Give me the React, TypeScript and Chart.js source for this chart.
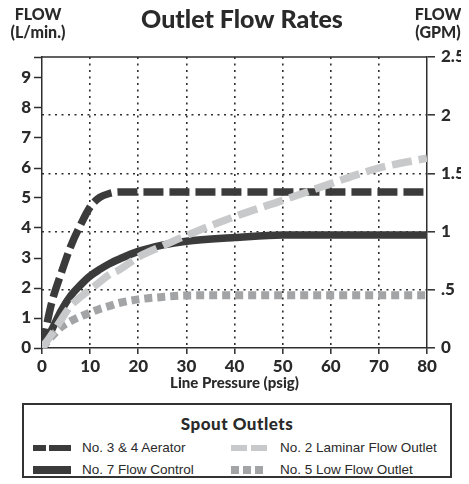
import React, { useEffect, useRef } from "react";
import { Chart, registerables } from "chart.js";

Chart.register(...registerables);

const pressure = [0, 2, 4, 6, 8, 10, 12, 14, 16, 20, 25, 30, 40, 50, 60, 70, 80];
const aerator = [0, 1.5, 2.5, 3.4, 4.1, 4.7, 5.02, 5.15, 5.2, 5.2, 5.2, 5.2, 5.2, 5.2, 5.2, 5.2, 5.2];
const flowControl = [0, 0.6, 1.25, 1.75, 2.1, 2.4, 2.62, 2.81, 2.96, 3.22, 3.43, 3.56, 3.68, 3.77, 3.77, 3.77, 3.77];
const laminar = [0, 0.45, 0.95, 1.41, 1.7, 1.95, 2.2, 2.45, 2.6, 3.03, 3.4, 3.75, 4.38, 4.92, 5.48, 6.0, 6.33];
const lowFlow = [0, 0.38, 0.7, 0.9, 1.05, 1.18, 1.3, 1.4, 1.5, 1.62, 1.7, 1.75, 1.76, 1.76, 1.76, 1.76, 1.76];

const seriesNames = ["No. 3 & 4 Aerator", "No. 7 Flow Control", "No. 2 Laminar Flow Outlet", "No. 5 Low Flow Outlet"];
const leftMax = 9.7;
const rightMax = 2.5;

const DARK = "#3b3b3b";
const LIGHT = "#c8c9ca";
const MID = "#a3a4a6";
const AXIS = "#2e2e2e";
const TICK_FONT = { family: "Lato", size: 17, weight: "900" as any };

const pts = (ys: number[]) => pressure.map((x, i) => ({ x, y: ys[i] }));

const textPlugin = {
  id: "texts",
  afterDraw(chart: any) {
    const { ctx, chartArea } = chart;
    ctx.save();
    ctx.strokeStyle = AXIS;
    ctx.lineWidth = 1.5;
    ctx.beginPath();
    ctx.moveTo(chartArea.left, chartArea.top);
    ctx.lineTo(chartArea.right, chartArea.top);
    ctx.stroke();
    ctx.fillStyle = "#2a2a2a";
    ctx.textAlign = "center";
    ctx.textBaseline = "middle";
    ctx.font = "900 25px Lato";
    ctx.fillText("Outlet Flow Rates", 234, 12);
    ctx.font = "900 16px Lato";
    ctx.fillText("FLOW", 30, 7);
    ctx.fillText("(L/min.)", 30, 25);
    ctx.fillText("FLOW", 430, 7);
    ctx.fillText("(GPM)", 430, 25);
    ctx.restore();
  },
};

function Swatch({ color, dash, width, len }: { color: string; dash?: string; width: number; len: number }) {
  return (
    <svg width={40} height={10} style={{ position: "absolute", left: 0, top: 0 }}>
      <line x1={0} y1={5} x2={len} y2={5} stroke={color} strokeWidth={width} strokeDasharray={dash} />
    </svg>
  );
}

export default function App() {
  const ref = useRef<HTMLCanvasElement | null>(null);
  useEffect(() => {
    if (!ref.current) return;
    const chart = new Chart(ref.current, {
      type: "line",
      data: {
        datasets: [
          { label: seriesNames[0], data: pts(aerator), borderColor: DARK, borderWidth: 7.5, borderDash: [20, 6], order: 3 },
          { label: seriesNames[1], data: pts(flowControl), borderColor: DARK, borderWidth: 7.5, order: 2 },
          { label: seriesNames[2], data: pts(laminar), borderColor: LIGHT, borderWidth: 7.5, borderDash: [20, 7], order: 0 },
          { label: seriesNames[3], data: pts(lowFlow), borderColor: MID, borderWidth: 8, borderDash: [8, 5], order: 1 },
        ],
      },
      options: {
        animation: false,
        responsive: false,
        maintainAspectRatio: false,
        parsing: false,
        elements: { point: { radius: 0 }, line: { cubicInterpolationMode: "monotone", borderCapStyle: "butt" } },
        layout: { padding: { top: 49, left: 0, right: 0, bottom: 0 } },
        plugins: { legend: { display: false }, tooltip: { enabled: false }, title: { display: false } },
        scales: {
          x: {
            type: "linear",
            min: 0,
            max: 80,
            ticks: { stepSize: 10, font: TICK_FONT, color: "#2a2a2a", padding: 2, maxRotation: 0 },
            grid: {
              color: (c: any) => (c.tick && (c.tick.value === 0 || c.tick.value === 80) ? "rgba(0,0,0,0)" : AXIS),
              lineWidth: 1.6,
              tickColor: AXIS,
              tickLength: 6,
              tickWidth: 1.5,
            },
            border: { display: true, color: AXIS, width: 1.5, dash: [2, 4.5] },
            title: { display: true, text: "Line Pressure (psig)", font: { family: "Lato", size: 15, weight: "900" as any }, color: "#2a2a2a", padding: { top: 0, bottom: 8 } },
            afterFit: (s: any) => { s.height = 52; },
          },
          y: {
            type: "linear",
            position: "left",
            min: 0,
            max: leftMax,
            ticks: { stepSize: 1, font: TICK_FONT, color: "#2a2a2a", padding: 3, callback: (v: any) => (v <= 9 ? String(v) : "") },
            grid: { drawOnChartArea: false, tickColor: AXIS, tickLength: 8, tickWidth: 1.5 },
            border: { display: true, color: AXIS, width: 1.5 },
            afterFit: (s: any) => { s.width = 34; },
          },
          y2: {
            type: "linear",
            position: "right",
            min: 0,
            max: rightMax,
            ticks: {
              stepSize: 0.5,
              font: TICK_FONT,
              color: "#2a2a2a",
              padding: 6,
              callback: (v: any) => (v === 0.5 ? ".5" : String(v)),
            },
            grid: {
              drawOnChartArea: true,
              color: (c: any) => (c.tick && (c.tick.value === 0 || c.tick.value === rightMax) ? "rgba(0,0,0,0)" : AXIS),
              lineWidth: 1.6,
              tickColor: AXIS,
              tickLength: 8,
              tickWidth: 1.5,
            },
            border: { display: true, color: AXIS, width: 1.5, dash: [2, 4.5] },
            afterFit: (s: any) => { s.width = 42; },
          },
        },
      },
      plugins: [textPlugin],
    });
    return () => chart.destroy();
  }, []);

  const itemText: React.CSSProperties = {
    position: "absolute",
    fontFamily: "'Liberation Sans', Arial, sans-serif",
    fontSize: 13.5,
    color: "#2a2a2a",
    lineHeight: "16px",
    whiteSpace: "nowrap",
  };

  const item = (left: number, top: number, label: string, sw: React.ReactNode) => (
    <div style={{ position: "absolute", left, top, width: 260, height: 16 }}>
      <div style={{ position: "absolute", left: 0, top: 3, width: 40, height: 10 }}>{sw}</div>
      <div style={{ ...itemText, left: 49, top: 0 }}>{label}</div>
    </div>
  );

  return (
    <div style={{ position: "relative", width: 461, height: 476 }}>
      <canvas ref={ref} width={461} height={392} style={{ position: "absolute", left: 0, top: 0, width: 461, height: 392 }} />
      <div
        style={{
          position: "absolute",
          left: 14,
          top: 395,
          width: 426,
          height: 71,
          border: "2px solid #333",
          background: "#fff",
        }}
      >
        <div
          style={{
            position: "absolute",
            left: 0,
            right: 0,
            top: 8,
            textAlign: "center",
            fontFamily: "Lato",
            fontWeight: 900,
            fontSize: 17,
            color: "#2a2a2a",
            letterSpacing: 0.5,
          }}
        >
          Spout Outlets
        </div>
        {item(9, 35, seriesNames[0], <Swatch color={DARK} width={6} len={38} dash="13 3 22 40" />)}
        {item(9, 57, seriesNames[1], <Swatch color={DARK} width={8} len={38} />)}
        {item(207, 35, seriesNames[2], <Swatch color={LIGHT} width={6} len={36} dash="16 4 16 40" />)}
        {item(207, 57, seriesNames[3], <Swatch color={MID} width={8} len={32} dash="8 4" />)}
      </div>
    </div>
  );
}
